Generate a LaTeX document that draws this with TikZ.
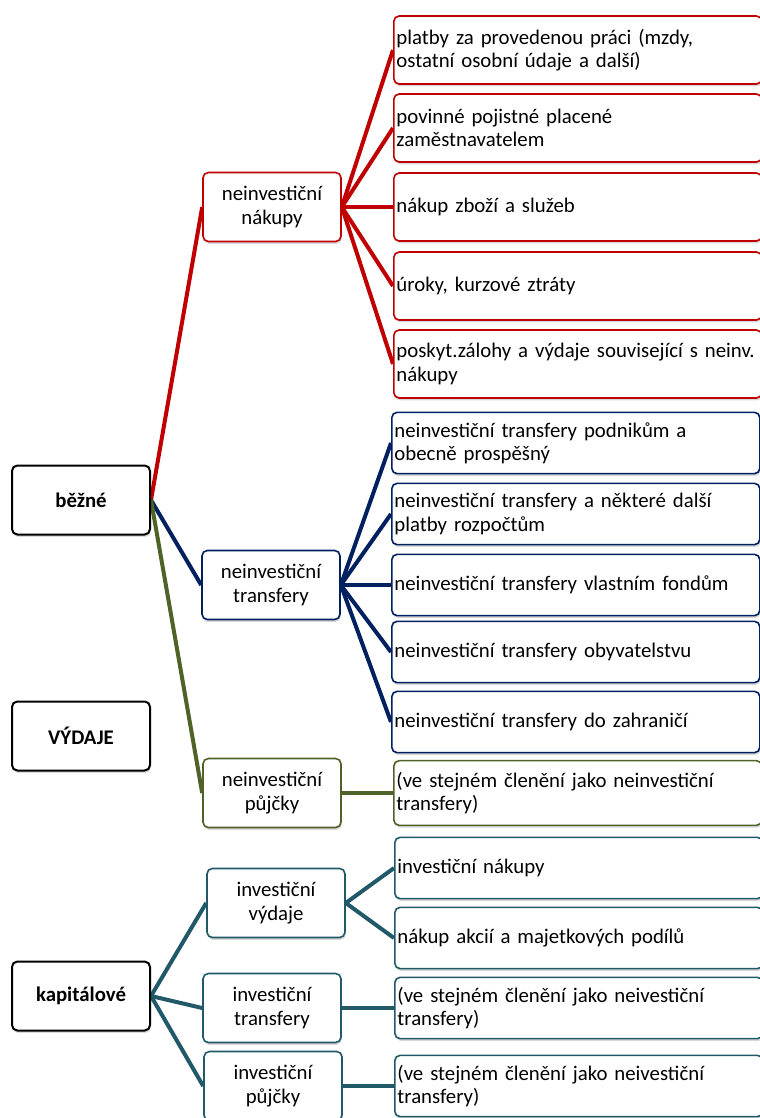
\documentclass[tikz,border=0pt]{standalone}
\usepackage{fontspec}
\setmainfont{Carlito}
\usetikzlibrary{positioning,shadows,backgrounds}
\definecolor{bezred}{RGB}{192,0,0}
\definecolor{beznavy}{RGB}{0,32,96}
\definecolor{bezolive}{RGB}{79,98,40}
\definecolor{kapteal}{RGB}{33,89,104}

\begin{document}
\begin{tikzpicture}[x=0.75pt, y=-0.75pt,
  box/.style={draw, line width=1.2pt, rounded corners=4pt, fill=white,
    font=\fontsize{15.6}{17.5}\selectfont,
    drop shadow={shadow xshift=0.6pt, shadow yshift=-1.8pt, opacity=0.3}},
  root/.style={box, draw=black, line width=1.5pt, minimum width=103.5pt, minimum height=51.75pt,
    font=\fontsize{15.6}{17.5}\selectfont\bfseries},
  mid/.style={box, draw=#1, minimum width=103.5pt, minimum height=51.75pt, align=center},
  leaf/.style={box, draw=#1, anchor=west, text width=272pt, inner xsep=2pt, align=left},
  link/.style={draw=#1, line width=3pt}]
  \useasboundingbox (0,0) rectangle (760,1118);
  \clip (0,0) rectangle (760,1118);

  % main groups
  \node[root] (bezne) at (81,500) {běžné};
  \node[root] (vydaje) at (81,736) {VÝDAJE};
  \node[root] (kapital) at (81,996) {kapitálové};

  % second level
  \node[mid=bezred] (nnakupy) at (272,207) {neinvestiční\\nákupy};
  \node[mid=beznavy] (ntransf) at (271,585) {neinvestiční\\transfery};
  \node[mid=bezolive] (npujcky) at (272,793) {neinvestiční\\půjčky};
  \node[mid=kapteal] (ivydaje) at (276,903) {investiční\\výdaje};
  \node[mid=kapteal] (itransf) at (272,1008) {investiční\\transfery};
  \node[mid=kapteal] (ipujcky) at (273,1086) {investiční\\půjčky};

  % items of neinvestiční nákupy
  \node[leaf=bezred, minimum height=51pt] (r1) at (393,50) {platby za provedenou práci (mzdy,\\ostatní osobní údaje a další)};
  \node[leaf=bezred, minimum height=51pt] (r2) at (393,128) {povinné pojistné placené\\zaměstnavatelem};
  \node[leaf=bezred, minimum height=51pt] (r3) at (393,207) {nákup zboží a služeb};
  \node[leaf=bezred, minimum height=51pt] (r4) at (393,286) {úroky, kurzové ztráty};
  \node[leaf=bezred, minimum height=51pt] (r5) at (393,364) {poskyt.zálohy a výdaje související s neinv.\\nákupy};

  % items of neinvestiční transfery
  \node[leaf=beznavy, minimum height=46pt] (b1) at (391,443) {neinvestiční transfery podnikům a\\obecně prospěšný};
  \node[leaf=beznavy, minimum height=46pt] (b2) at (391,514) {neinvestiční transfery a některé další\\platby rozpočtům};
  \node[leaf=beznavy, minimum height=46pt] (b3) at (391,585) {neinvestiční transfery vlastním fondům};
  \node[leaf=beznavy, minimum height=46pt] (b4) at (391,652) {neinvestiční transfery obyvatelstvu};
  \node[leaf=beznavy, minimum height=46pt] (b5) at (391,722) {neinvestiční transfery do zahraničí};

  \node[leaf=bezolive, minimum height=48.5pt] (g1) at (393,793) {(ve stejném členění jako neinvestiční\\transfery)};

  % items of kapitálové
  \node[leaf=kapteal, minimum height=46pt] (t1) at (394,868) {investiční nákupy};
  \node[leaf=kapteal, minimum height=46pt] (t2) at (394,938) {nákup akcií a majetkových podílů};
  \node[leaf=kapteal, minimum height=46pt] (t3) at (394,1008) {(ve stejném členění jako neivestiční\\transfery)};
  \node[leaf=kapteal, minimum height=46pt] (t4) at (394,1086) {(ve stejném členění jako neivestiční\\transfery)};

  \begin{scope}[on background layer]
    \draw[link=bezred] (bezne.east) -- (nnakupy.west);
    \draw[link=beznavy] (bezne.east) -- (ntransf.west);
    \draw[link=bezolive] (bezne.east) -- (npujcky.west);
    \draw[link=kapteal] (kapital.east) -- (ivydaje.west);
    \draw[link=kapteal] (kapital.east) -- (itransf.west);
    \draw[link=kapteal] (kapital.east) -- (ipujcky.west);

    \draw[link=bezred] (nnakupy.east) -- (r1.west);
    \draw[link=bezred] (nnakupy.east) -- (r2.west);
    \draw[link=bezred] (nnakupy.east) -- (r3.west);
    \draw[link=bezred] (nnakupy.east) -- (r4.west);
    \draw[link=bezred] (nnakupy.east) -- (r5.west);

    \draw[link=beznavy] (ntransf.east) -- (b1.west);
    \draw[link=beznavy] (ntransf.east) -- (b2.west);
    \draw[link=beznavy] (ntransf.east) -- (b3.west);
    \draw[link=beznavy] (ntransf.east) -- (b4.west);
    \draw[link=beznavy] (ntransf.east) -- (b5.west);

    \draw[link=bezolive] (npujcky.east) -- (g1.west);

    \draw[link=kapteal] (ivydaje.east) -- (t1.west);
    \draw[link=kapteal] (ivydaje.east) -- (t2.west);
    \draw[link=kapteal] (itransf.east) -- (t3.west);
    \draw[link=kapteal] (ipujcky.east) -- (t4.west);
  \end{scope}
\end{tikzpicture}
\end{document}
